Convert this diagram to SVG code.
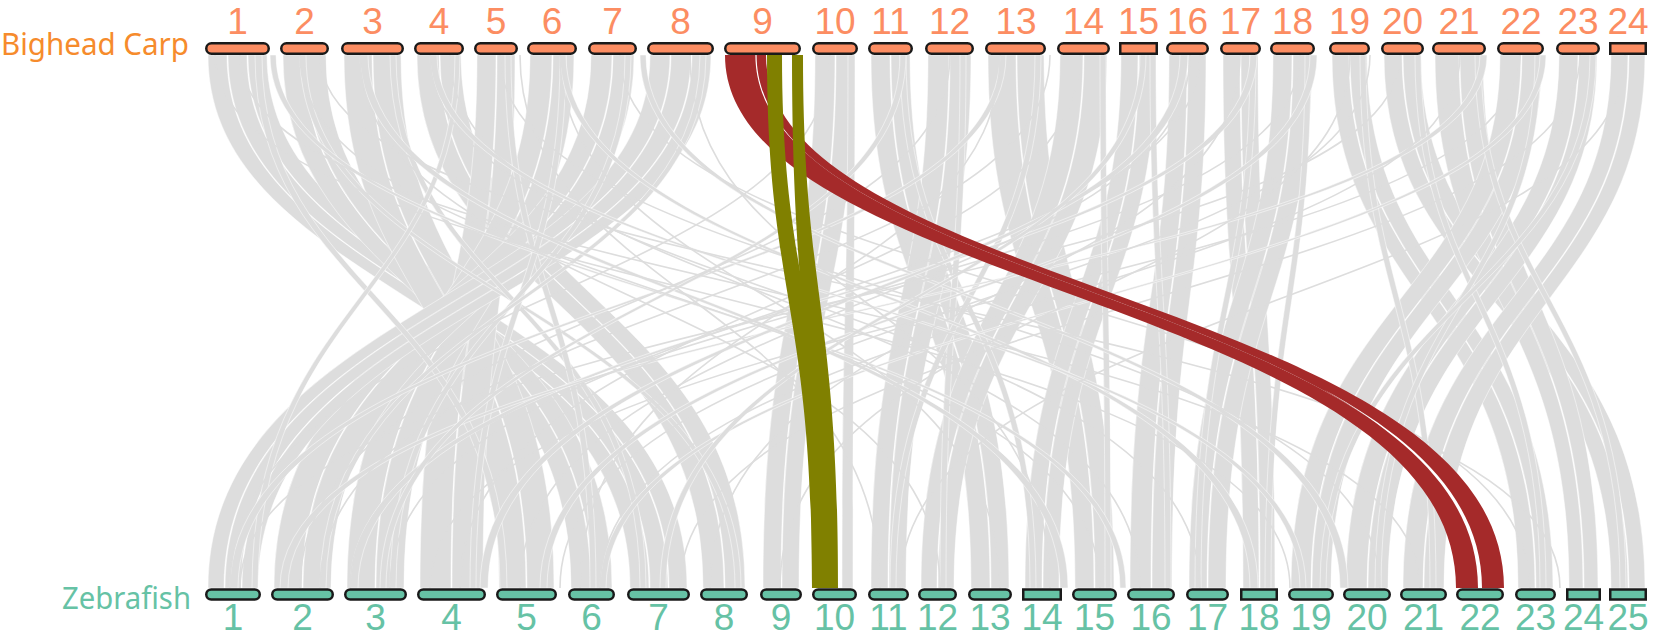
<svg xmlns="http://www.w3.org/2000/svg" width="1655" height="638" viewBox="0 0 1655 638">
<style>
.g{fill:#DDDDDD;stroke:#ffffff;stroke-width:0.5}
.ln{fill:none;stroke:#DDDDDD;stroke-width:1.6}
.red{fill:#A52A2A}
.olv{fill:#808000}
.gap{fill:#ffffff}
.tb{fill:#FC8D62;stroke:#1a1a1a;stroke-width:2.5}
.bb{fill:#66C2A5;stroke:#1a1a1a;stroke-width:2.5}
.tl{font-family:"Liberation Sans",Arial,sans-serif;font-size:37px;fill:#FC8D62;text-anchor:middle}
.bl{font-family:"Liberation Sans",Arial,sans-serif;font-size:37px;fill:#66C2A5;text-anchor:middle}
.sp{font-family:"Noto Sans","Open Sans",sans-serif;font-size:30px}
</style>
<rect width="1655" height="638" fill="#ffffff"/>
<g id="connectors">
<path class="g" d="M208 55 C208 295 630 305 630 588 L649 588 C649 305 227 295 227 55 Z"/>
<path class="g" d="M228 55 C228 295 650 305 650 588 L668 588 C668 305 247 295 247 55 Z"/>
<path class="g" d="M248 55 C248 295 669 305 669 588 L687 588 C687 305 267 295 267 55 Z"/>
<path class="g" d="M283 55 C283 295 571 305 571 588 L591 588 C591 305 304 295 304 55 Z"/>
<path class="g" d="M305 55 C305 295 592 305 592 588 L612 588 C612 305 326 295 326 55 Z"/>
<path class="g" d="M344 55 C344 295 499 305 499 588 L526 588 C526 305 372 295 372 55 Z"/>
<path class="g" d="M373 55 C373 295 527 305 527 588 L554 588 C554 305 401 295 401 55 Z"/>
<path class="g" d="M417 55 C417 295 703 305 703 588 L724 588 C724 305 439 295 439 55 Z"/>
<path class="g" d="M440 55 C440 295 725 305 725 588 L745 588 C745 305 461 295 461 55 Z"/>
<path class="g" d="M477 55 C477 295 420 305 420 588 L451 588 C451 305 496 295 496 55 Z"/>
<path class="g" d="M497 55 C497 295 452 305 452 588 L483 588 C483 305 515 295 515 55 Z"/>
<path class="g" d="M530 55 C530 295 347 305 347 588 L375 588 C375 305 552 295 552 55 Z"/>
<path class="g" d="M553 55 C553 295 376 305 376 588 L404 588 C404 305 574 295 574 55 Z"/>
<path class="g" d="M591 55 C591 295 274 305 274 588 L302 588 C302 305 612 295 612 55 Z"/>
<path class="g" d="M613 55 C613 295 303 305 303 588 L331 588 C331 305 634 295 634 55 Z"/>
<path class="g" d="M650 55 C650 295 208 305 208 588 L224 588 C224 305 670 295 670 55 Z"/>
<path class="g" d="M671 55 C671 295 225 305 225 588 L241 588 C241 305 691 295 691 55 Z"/>
<path class="g" d="M692 55 C692 295 242 305 242 588 L258 588 C258 305 711 295 711 55 Z"/>
<path class="g" d="M815 55 C815 295 763 305 763 588 L781 588 C781 305 835 295 835 55 Z"/>
<path class="g" d="M836 55 C836 295 782 305 782 588 L799 588 C799 305 855 295 855 55 Z"/>
<path class="g" d="M871 55 C871 295 971 305 971 588 L990 588 C990 305 890 295 890 55 Z"/>
<path class="g" d="M891 55 C891 295 991 305 991 588 L1009 588 C1009 305 910 295 910 55 Z"/>
<path class="g" d="M928 55 C928 295 871 305 871 588 L888 588 C888 305 949 295 949 55 Z"/>
<path class="g" d="M950 55 C950 295 889 305 889 588 L906 588 C906 305 971 295 971 55 Z"/>
<path class="g" d="M988 55 C988 295 1075 305 1075 588 L1094 588 C1094 305 1016 295 1016 55 Z"/>
<path class="g" d="M1017 55 C1017 295 1095 305 1095 588 L1114 588 C1114 305 1044 295 1044 55 Z"/>
<path class="g" d="M1060 55 C1060 295 921 305 921 588 L937 588 C937 305 1083 295 1083 55 Z"/>
<path class="g" d="M1084 55 C1084 295 938 305 938 588 L954 588 C954 305 1107 295 1107 55 Z"/>
<path class="g" d="M1121 55 C1121 295 1025 305 1025 588 L1042 588 C1042 305 1138 295 1138 55 Z"/>
<path class="g" d="M1139 55 C1139 295 1043 305 1043 588 L1059 588 C1059 305 1156 295 1156 55 Z"/>
<path class="g" d="M1169 55 C1169 295 1130 305 1130 588 L1151 588 C1151 305 1187 295 1187 55 Z"/>
<path class="g" d="M1188 55 C1188 295 1152 305 1152 588 L1172 588 C1172 305 1206 295 1206 55 Z"/>
<path class="g" d="M1223 55 C1223 295 1243 305 1243 588 L1259 588 C1259 305 1240 295 1240 55 Z"/>
<path class="g" d="M1241 55 C1241 295 1260 305 1260 588 L1275 588 C1275 305 1258 295 1258 55 Z"/>
<path class="g" d="M1273 55 C1273 295 1189 305 1189 588 L1207 588 C1207 305 1292 295 1292 55 Z"/>
<path class="g" d="M1293 55 C1293 295 1208 305 1208 588 L1226 588 C1226 305 1312 295 1312 55 Z"/>
<path class="g" d="M1332 55 C1332 295 1518 305 1518 588 L1535 588 C1535 305 1349 295 1349 55 Z"/>
<path class="g" d="M1350 55 C1350 295 1536 305 1536 588 L1553 588 C1553 305 1367 295 1367 55 Z"/>
<path class="g" d="M1384 55 C1384 295 1611 305 1611 588 L1628 588 C1628 305 1402 295 1402 55 Z"/>
<path class="g" d="M1403 55 C1403 295 1629 305 1629 588 L1645 588 C1645 305 1421 295 1421 55 Z"/>
<path class="g" d="M1435 55 C1435 295 1569 305 1569 588 L1583 588 C1583 305 1459 295 1459 55 Z"/>
<path class="g" d="M1460 55 C1460 295 1584 305 1584 588 L1598 588 C1598 305 1483 295 1483 55 Z"/>
<path class="g" d="M1500 55 C1500 295 1291 305 1291 588 L1311 588 C1311 305 1521 295 1521 55 Z"/>
<path class="g" d="M1522 55 C1522 295 1312 305 1312 588 L1331 588 C1331 305 1542 295 1542 55 Z"/>
<path class="g" d="M1559 55 C1559 295 1346 305 1346 588 L1367 588 C1367 305 1578 295 1578 55 Z"/>
<path class="g" d="M1579 55 C1579 295 1368 305 1368 588 L1388 588 C1388 305 1597 295 1597 55 Z"/>
<path class="g" d="M1611 55 C1611 295 1403 305 1403 588 L1423 588 C1423 305 1628 295 1628 55 Z"/>
<path class="g" d="M1629 55 C1629 295 1424 305 1424 588 L1444 588 C1444 305 1645 295 1645 55 Z"/>
<path class="g" d="M255 55 C255 295 500 305 500 588 L507 588 C507 305 262 295 262 55 Z"/>
<path class="g" d="M300 55 C300 295 735 305 735 588 L741 588 C741 305 306 295 306 55 Z"/>
<path class="g" d="M390 55 C390 295 640 305 640 588 L646 588 C646 305 396 295 396 55 Z"/>
<path class="g" d="M455 55 C455 295 252 305 252 588 L258 588 C258 305 460 295 460 55 Z"/>
<path class="g" d="M505 55 C505 295 590 305 590 588 L596 588 C596 305 511 295 511 55 Z"/>
<path class="g" d="M560 55 C560 295 470 305 470 588 L476 588 C476 305 566 295 566 55 Z"/>
<path class="g" d="M625 55 C625 295 390 305 390 588 L396 588 C396 305 631 295 631 55 Z"/>
<path class="g" d="M700 55 C700 295 320 305 320 588 L326 588 C326 305 706 295 706 55 Z"/>
<path class="g" d="M848 55 C848 295 842 305 842 588 L853 588 C853 305 855 295 855 55 Z"/>
<path class="g" d="M900 55 C900 295 1030 305 1030 588 L1036 588 C1036 305 906 295 906 55 Z"/>
<path class="g" d="M960 55 C960 295 940 305 940 588 L946 588 C946 305 966 295 966 55 Z"/>
<path class="g" d="M1035 55 C1035 295 890 305 890 588 L896 588 C896 305 1041 295 1041 55 Z"/>
<path class="g" d="M1100 55 C1100 295 1105 305 1105 588 L1111 588 C1111 305 1106 295 1106 55 Z"/>
<path class="g" d="M1150 55 C1150 295 1165 305 1165 588 L1171 588 C1171 305 1156 295 1156 55 Z"/>
<path class="g" d="M1250 55 C1250 295 1195 305 1195 588 L1201 588 C1201 305 1256 295 1256 55 Z"/>
<path class="g" d="M1305 55 C1305 295 1265 305 1265 588 L1271 588 C1271 305 1311 295 1311 55 Z"/>
<path class="g" d="M1360 55 C1360 295 1430 305 1430 588 L1436 588 C1436 305 1366 295 1366 55 Z"/>
<path class="g" d="M1415 55 C1415 295 1540 305 1540 588 L1546 588 C1546 305 1421 295 1421 55 Z"/>
<path class="g" d="M1475 55 C1475 295 1620 305 1620 588 L1626 588 C1626 305 1481 295 1481 55 Z"/>
<path class="g" d="M1535 55 C1535 295 1375 305 1375 588 L1381 588 C1381 305 1541 295 1541 55 Z"/>
<path class="g" d="M1590 55 C1590 295 1320 305 1320 588 L1326 588 C1326 305 1596 295 1596 55 Z"/>
<path class="g" d="M1250 55 C1250 295 350 305 350 588 L358 588 C358 305 1257 295 1257 55 Z"/>
<path class="g" d="M1480 55 C1480 295 280 305 280 588 L288 588 C288 305 1487 295 1487 55 Z"/>
<path class="g" d="M1000 55 C1000 295 230 305 230 588 L238 588 C238 305 1006 295 1006 55 Z"/>
<path class="g" d="M560 55 C560 295 1250 305 1250 588 L1258 588 C1258 305 566 295 566 55 Z"/>
<path class="g" d="M640 55 C640 295 1340 305 1340 588 L1348 588 C1348 305 646 295 646 55 Z"/>
<path class="g" d="M270 55 C270 295 1120 305 1120 588 L1126 588 C1126 305 276 295 276 55 Z"/>
<path class="g" d="M1180 55 C1180 295 480 305 480 588 L488 588 C488 305 1188 295 1188 55 Z"/>
<path class="g" d="M1310 55 C1310 295 540 305 540 588 L547 588 C547 305 1317 295 1317 55 Z"/>
<path class="g" d="M1540 55 C1540 295 600 305 600 588 L606 588 C606 305 1546 295 1546 55 Z"/>
<path class="g" d="M360 55 C360 295 1060 305 1060 588 L1068 588 C1068 305 368 295 368 55 Z"/>
<path class="g" d="M430 55 C430 295 1300 305 1300 588 L1306 588 C1306 305 437 295 437 55 Z"/>
<path class="g" d="M900 55 C900 295 380 305 380 588 L386 588 C386 305 906 295 906 55 Z"/>
<path class="g" d="M1140 55 C1140 295 660 305 660 588 L666 588 C666 305 1146 295 1146 55 Z"/>
<path class="ln" d="M215 55 C215 295 1290 305 1290 588"/>
<path class="ln" d="M300 55 C300 295 1100 305 1100 588"/>
<path class="ln" d="M360 55 C360 295 940 305 940 588"/>
<path class="ln" d="M430 55 C430 295 1200 305 1200 588"/>
<path class="ln" d="M500 55 C500 295 1380 305 1380 588"/>
<path class="ln" d="M560 55 C560 295 1000 305 1000 588"/>
<path class="ln" d="M620 55 C620 295 1530 305 1530 588"/>
<path class="ln" d="M690 55 C690 295 1050 305 1050 588"/>
<path class="ln" d="M830 55 C830 295 230 305 230 588"/>
<path class="ln" d="M950 55 C950 295 300 305 300 588"/>
<path class="ln" d="M1000 55 C1000 295 580 305 580 588"/>
<path class="ln" d="M1080 55 C1080 295 460 305 460 588"/>
<path class="ln" d="M1190 55 C1190 295 520 305 520 588"/>
<path class="ln" d="M1240 55 C1240 295 710 305 710 588"/>
<path class="ln" d="M1300 55 C1300 295 350 305 350 588"/>
<path class="ln" d="M1350 55 C1350 295 780 305 780 588"/>
<path class="ln" d="M1400 55 C1400 295 240 305 240 588"/>
<path class="ln" d="M1460 55 C1460 295 600 305 600 588"/>
<path class="ln" d="M1520 55 C1520 295 430 305 430 588"/>
<path class="ln" d="M1580 55 C1580 295 680 305 680 588"/>
<path class="ln" d="M1625 55 C1625 295 900 305 900 588"/>
<path class="ln" d="M240 55 C240 295 1420 305 1420 588"/>
<path class="ln" d="M320 55 C320 295 1560 305 1560 588"/>
<path class="ln" d="M450 55 C450 295 1140 305 1140 588"/>
<path class="ln" d="M520 55 C520 295 880 305 880 588"/>
<path class="ln" d="M1050 55 C1050 295 320 305 320 588"/>
<path class="ln" d="M1200 55 C1200 295 390 305 390 588"/>
<path class="ln" d="M1370 55 C1370 295 560 305 560 588"/>
<path class="red" d="M725 55 C725 290 1456 300 1456 588 L1480 588 C1480 300 756 290 756 55 Z"/>
<path class="red" d="M756 55 C756 290 1480 300 1480 588 L1504 588 C1504 300 766 290 766 55 Z"/>
<path class="gap" d="M755.4 55 C755.4 90 771.7 120.6 800 147.2 C772.9 120.2 756.6 90 756.6 55 Z"/>
<path class="gap" d="M1323.6 389.6 C1413.5 441 1478 502 1478 588 L1482 588 C1482 502 1416 439.5 1323.6 389.6 Z"/>
<path class="olv" d="M767 55 C767 295 812 305 812 588 L830 588 C830 305 782 295 782 55 Z"/>
<path class="olv" d="M792 55 C792 295 812 305 812 588 L838 588 C838 305 803 295 803 55 Z"/>
</g>
<text id="label-bighead" class="sp" x="1" y="54.5" fill="#F68B2C" textLength="188" lengthAdjust="spacingAndGlyphs">Bighead Carp</text>
<text id="label-zebrafish" class="sp" x="62" y="609" fill="#66C2A5" textLength="129" lengthAdjust="spacingAndGlyphs">Zebrafish</text>
<g id="bighead-chromosomes">
<g id="bc1"><rect class="tb" x="206.25" y="43.25" width="62.5" height="10.5" rx="5.25"/><text class="tl" x="237.5" y="33.5">1</text></g>
<g id="bc2"><rect class="tb" x="281.25" y="43.25" width="46.5" height="10.5" rx="5.25"/><text class="tl" x="304.5" y="33.5">2</text></g>
<g id="bc3"><rect class="tb" x="342.25" y="43.25" width="60.5" height="10.5" rx="5.25"/><text class="tl" x="372.5" y="33.5">3</text></g>
<g id="bc4"><rect class="tb" x="415.25" y="43.25" width="47.5" height="10.5" rx="5.25"/><text class="tl" x="439" y="33.5">4</text></g>
<g id="bc5"><rect class="tb" x="475.25" y="43.25" width="41.5" height="10.5" rx="5.25"/><text class="tl" x="496" y="33.5">5</text></g>
<g id="bc6"><rect class="tb" x="528.25" y="43.25" width="47.5" height="10.5" rx="5.25"/><text class="tl" x="552" y="33.5">6</text></g>
<g id="bc7"><rect class="tb" x="589.25" y="43.25" width="46.5" height="10.5" rx="5.25"/><text class="tl" x="612.5" y="33.5">7</text></g>
<g id="bc8"><rect class="tb" x="648.25" y="43.25" width="64.5" height="10.5" rx="5.25"/><text class="tl" x="680.5" y="33.5">8</text></g>
<g id="bc9"><rect class="tb" x="725.25" y="43.25" width="74.5" height="10.5" rx="5.25"/><text class="tl" x="762.5" y="33.5">9</text></g>
<g id="bc10"><rect class="tb" x="813.25" y="43.25" width="43.5" height="10.5" rx="5.25"/><text class="tl" x="835" y="33.5">10</text></g>
<g id="bc11"><rect class="tb" x="869.25" y="43.25" width="42.5" height="10.5" rx="5.25"/><text class="tl" x="890.5" y="33.5">11</text></g>
<g id="bc12"><rect class="tb" x="926.25" y="43.25" width="46.5" height="10.5" rx="5.25"/><text class="tl" x="949.5" y="33.5">12</text></g>
<g id="bc13"><rect class="tb" x="986.25" y="43.25" width="58.5" height="10.5" rx="5.25"/><text class="tl" x="1016" y="33.5">13</text></g>
<g id="bc14"><rect class="tb" x="1058.25" y="43.25" width="50.5" height="10.5" rx="5.25"/><text class="tl" x="1083.5" y="33.5">14</text></g>
<g id="bc15"><rect class="tb" x="1120.25" y="43.25" width="36.5" height="10.5"/><text class="tl" x="1138.5" y="33.5">15</text></g>
<g id="bc16"><rect class="tb" x="1167.25" y="43.25" width="40.5" height="10.5" rx="5.25"/><text class="tl" x="1187.5" y="33.5">16</text></g>
<g id="bc17"><rect class="tb" x="1221.25" y="43.25" width="38.5" height="10.5" rx="5.25"/><text class="tl" x="1240.5" y="33.5">17</text></g>
<g id="bc18"><rect class="tb" x="1271.25" y="43.25" width="42.5" height="10.5" rx="5.25"/><text class="tl" x="1292.5" y="33.5">18</text></g>
<g id="bc19"><rect class="tb" x="1330.25" y="43.25" width="38.5" height="10.5" rx="5.25"/><text class="tl" x="1349.5" y="33.5">19</text></g>
<g id="bc20"><rect class="tb" x="1382.25" y="43.25" width="40.5" height="10.5" rx="5.25"/><text class="tl" x="1402.5" y="33.5">20</text></g>
<g id="bc21"><rect class="tb" x="1433.25" y="43.25" width="51.5" height="10.5" rx="5.25"/><text class="tl" x="1459" y="33.5">21</text></g>
<g id="bc22"><rect class="tb" x="1498.25" y="43.25" width="44.5" height="10.5" rx="5.25"/><text class="tl" x="1521" y="33.5">22</text></g>
<g id="bc23"><rect class="tb" x="1557.25" y="43.25" width="41.5" height="10.5" rx="5.25"/><text class="tl" x="1578" y="33.5">23</text></g>
<g id="bc24"><rect class="tb" x="1610.25" y="43.25" width="35.5" height="10.5"/><text class="tl" x="1628" y="33.5">24</text></g>
</g>
<g id="zebrafish-chromosomes">
<g id="zf1"><rect class="bb" x="206.25" y="589.5" width="53.5" height="10" rx="5"/><text class="bl" x="233" y="630">1</text></g>
<g id="zf2"><rect class="bb" x="272.25" y="589.5" width="60.5" height="10" rx="5"/><text class="bl" x="302.5" y="630">2</text></g>
<g id="zf3"><rect class="bb" x="345.25" y="589.5" width="60.5" height="10" rx="5"/><text class="bl" x="375.5" y="630">3</text></g>
<g id="zf4"><rect class="bb" x="418.25" y="589.5" width="66.5" height="10" rx="5"/><text class="bl" x="451.5" y="630">4</text></g>
<g id="zf5"><rect class="bb" x="497.25" y="589.5" width="58.5" height="10" rx="5"/><text class="bl" x="526.5" y="630">5</text></g>
<g id="zf6"><rect class="bb" x="569.25" y="589.5" width="44.5" height="10" rx="5"/><text class="bl" x="591.5" y="630">6</text></g>
<g id="zf7"><rect class="bb" x="628.25" y="589.5" width="60.5" height="10" rx="5"/><text class="bl" x="658.5" y="630">7</text></g>
<g id="zf8"><rect class="bb" x="701.25" y="589.5" width="45.5" height="10" rx="5"/><text class="bl" x="724" y="630">8</text></g>
<g id="zf9"><rect class="bb" x="761.25" y="589.5" width="39.5" height="10" rx="5"/><text class="bl" x="781" y="630">9</text></g>
<g id="zf10"><rect class="bb" x="813.25" y="589.5" width="42.5" height="10" rx="5"/><text class="bl" x="834.5" y="630">10</text></g>
<g id="zf11"><rect class="bb" x="869.25" y="589.5" width="38.5" height="10" rx="5"/><text class="bl" x="888.5" y="630">11</text></g>
<g id="zf12"><rect class="bb" x="919.25" y="589.5" width="36.5" height="10" rx="5"/><text class="bl" x="937.5" y="630">12</text></g>
<g id="zf13"><rect class="bb" x="969.25" y="589.5" width="41.5" height="10" rx="5"/><text class="bl" x="990" y="630">13</text></g>
<g id="zf14"><rect class="bb" x="1023.25" y="589.5" width="37.5" height="10"/><text class="bl" x="1042" y="630">14</text></g>
<g id="zf15"><rect class="bb" x="1073.25" y="589.5" width="42.5" height="10" rx="5"/><text class="bl" x="1094.5" y="630">15</text></g>
<g id="zf16"><rect class="bb" x="1128.25" y="589.5" width="45.5" height="10" rx="5"/><text class="bl" x="1151" y="630">16</text></g>
<g id="zf17"><rect class="bb" x="1187.25" y="589.5" width="40.5" height="10" rx="5"/><text class="bl" x="1207.5" y="630">17</text></g>
<g id="zf18"><rect class="bb" x="1241.25" y="589.5" width="35.5" height="10"/><text class="bl" x="1259" y="630">18</text></g>
<g id="zf19"><rect class="bb" x="1289.25" y="589.5" width="43.5" height="10" rx="5"/><text class="bl" x="1311" y="630">19</text></g>
<g id="zf20"><rect class="bb" x="1344.25" y="589.5" width="45.5" height="10" rx="5"/><text class="bl" x="1367" y="630">20</text></g>
<g id="zf21"><rect class="bb" x="1401.25" y="589.5" width="44.5" height="10" rx="5"/><text class="bl" x="1423.5" y="630">21</text></g>
<g id="zf22"><rect class="bb" x="1457.25" y="589.5" width="45.5" height="10" rx="5"/><text class="bl" x="1480" y="630">22</text></g>
<g id="zf23"><rect class="bb" x="1516.25" y="589.5" width="38.5" height="10" rx="5"/><text class="bl" x="1535.5" y="630">23</text></g>
<g id="zf24"><rect class="bb" x="1567.25" y="589.5" width="32.5" height="10"/><text class="bl" x="1583.5" y="630">24</text></g>
<g id="zf25"><rect class="bb" x="1610.25" y="589.5" width="35.5" height="10"/><text class="bl" x="1628" y="630">25</text></g>
</g>
</svg>
